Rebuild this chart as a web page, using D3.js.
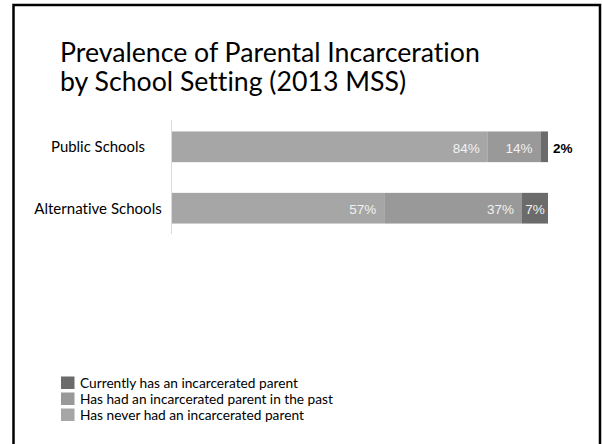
<!DOCTYPE html>
<html>
<head>
<meta charset="utf-8">
<script src="https://cdn.jsdelivr.net/npm/d3@7"></script>
<style>
  html, body { margin: 0; padding: 0; background: #fff; }
  svg { display: block; }
  text { font-variant-ligatures: none; font-feature-settings: "liga" 0, "dlig" 0; }
</style>
</head>
<body>
<svg id="chart" width="602" height="444"></svg>
<script>
// ---- data ----
const titleLines = ["Prevalence of Parental Incarceration", "by School Setting (2013 MSS)"];
const categories = ["Public Schools", "Alternative Schools"];
const neverValues = [84, 57];
const pastValues = [14, 37];
const currentValues = [2, 7];
const seriesKeys = ["never", "past", "current"];
const seriesNames = ["Has never had an incarcerated parent", "Has had an incarcerated parent in the past", "Currently has an incarcerated parent"];
const seriesColors = ["#a6a6a6", "#999999", "#6b6b6b"];
const legendOrder = ["current", "past", "never"];

const rows = categories.map((c, i) => ({ category: c, never: neverValues[i], past: pastValues[i], current: currentValues[i] }));

const svg = d3.select("#chart");
const bodyFont = "Lato, 'Open Sans', 'Noto Sans', sans-serif";
const labelFont = "'Liberation Sans', Arial, sans-serif";

function fitWidth(sel, target) {
  const w = sel.node().getComputedTextLength();
  const fs = parseFloat(sel.attr("font-size"));
  sel.attr("font-size", fs * target / w);
}

// frame
svg.append("path")
  .attr("d", "M13.5,444 L13.5,5 L600,5 L600,444")
  .attr("fill", "none").attr("stroke", "#000").attr("stroke-width", 2.5);

// title
const titleWidths = [425, 342];
const titleBaselines = [62, 91];
const tnodes = titleLines.map((t, i) => svg.append("text")
  .attr("x", 60).attr("y", titleBaselines[i])
  .attr("font-family", bodyFont).attr("font-size", 26).attr("fill", "#000")
  .text(t));
const ratios = tnodes.map((n, i) => titleWidths[i] / n.node().getComputedTextLength());
const tfs = 26 * d3.mean(ratios);
tnodes.forEach(n => n.attr("font-size", tfs));

// scales
const x = d3.scaleLinear().domain([0, 1]).range([172, 548]);
const y = d3.scaleBand().domain(categories).range([121, 234]).paddingInner(0.5).paddingOuter(0.17);
const color = d3.scaleOrdinal().domain(seriesKeys).range(seriesColors);

const stack = d3.stack().keys(seriesKeys).offset(d3.stackOffsetExpand);
const series = stack(rows);

// axis line (left)
svg.append("line")
  .attr("x1", 171.5).attr("x2", 171.5).attr("y1", 120).attr("y2", 234)
  .attr("stroke", "#d9d9d9").attr("stroke-width", 1);

// bars
const g = svg.append("g");
series.forEach(s => {
  g.selectAll(null).data(s).enter().append("rect")
    .attr("x", d => x(d[0]))
    .attr("y", d => y(d.data.category))
    .attr("width", d => x(d[1]) - x(d[0]))
    .attr("height", y.bandwidth())
    .attr("fill", color(s.key));
});

// value labels
series.forEach(s => {
  s.forEach(d => {
    const v = d.data[s.key];
    const x0 = x(d[0]), x1 = x(d[1]);
    const cy = y(d.data.category) + y.bandwidth() / 2 + 6;
    const t = svg.append("text")
      .attr("y", cy)
      .attr("font-family", labelFont)
      .attr("font-size", 13.5)
      .text(v + "%");
    const w = t.node().getComputedTextLength();
    const segW = x1 - x0;
    if (w + 4 > segW) {
      t.attr("x", x1 + 5).attr("text-anchor", "start").attr("fill", "#000").attr("font-weight", "bold");
    } else {
      const pad = Math.max(2, Math.min(8, (segW - w) / 2));
      t.attr("x", x1 - pad).attr("text-anchor", "end").attr("fill", "#f2f2f2");
    }
  });
});

// category labels
const catWidths = [94, 127.5];
categories.forEach((c, i) => {
  const t = svg.append("text")
    .attr("x", 98)
    .attr("y", y(c) + y.bandwidth() / 2 + 5.5)
    .attr("text-anchor", "middle")
    .attr("font-family", bodyFont).attr("font-size", 14).attr("fill", "#000")
    .text(c);
  fitWidth(t, catWidths[i]);
});

// legend
const legendWidths = { current: 218, past: 253, never: 224 };
const lg = svg.append("g");
const legendY = d3.scalePoint().domain(legendOrder).range([383, 415]);
legendOrder.forEach(k => {
  const idx = seriesKeys.indexOf(k);
  const cy = legendY(k);
  lg.append("rect")
    .attr("x", 61).attr("y", cy - 6.5).attr("width", 13.5).attr("height", 12.5)
    .attr("fill", color(k));
  const t = lg.append("text")
    .attr("x", 80).attr("y", cy + 4.5)
    .attr("font-family", bodyFont).attr("font-size", 13).attr("fill", "#000")
    .text(seriesNames[idx]);
  fitWidth(t, legendWidths[k]);
});
</script>
</body>
</html>
